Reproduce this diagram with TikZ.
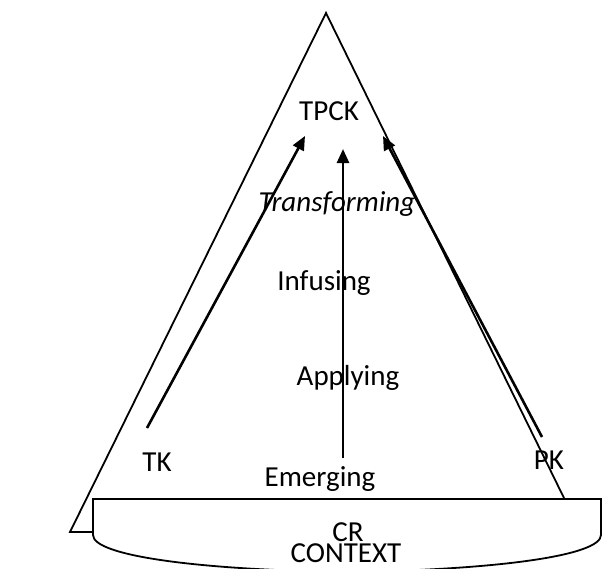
\documentclass[tikz,border=0pt]{standalone}
\usepackage{fontspec}
\setmainfont{Carlito}
\usetikzlibrary{arrows.meta}

\begin{document}
\begin{tikzpicture}[x=1pt,y=-1pt,
  word text/.style={anchor=base,inner sep=0pt,font=\fontsize{29}{34}\selectfont},
  thin line/.style={line width=1.8pt,line join=miter},
  arrow line/.style={line width=2.6pt,-{Triangle[length=14pt,width=12pt]}}]

  \useasboundingbox (0,0) rectangle (602,568);

  % cone and context base
  \draw[thin line] (93,532) -- (70,532) -- (326,13) -- (564,498);
  \draw[thin line] (602,499) -- (93,499) -- (93,535)
    .. controls (93,556) and (200,570) .. (347,572)
    .. controls (494,570) and (601,556) .. (601,535) -- (601,499);

  % labels
  \node[word text] (tpck) at (329,120) {TPCK};
  \node[word text] (transforming) at (337,211) {\itshape Transforming};
  \node[word text] (infusing) at (324,290) {Infusing};
  \node[word text] (applying) at (348,385) {Applying};
  \node[word text] (emerging) at (320,486) {Emerging};
  \node[word text] (tk) at (157,471) {TK};
  \node[word text] (pk) at (549,469) {PK};
  \node[word text] (cr) at (348,541) {CR};
  \node[word text] (context) at (346,562) {CONTEXT};

  \coordinate (tk start) at (147,428);
  \coordinate (tk end) at (305,136);
  \coordinate (em start) at (343,458);
  \coordinate (em end) at (343,149);
  \coordinate (pk start) at (542,437);
  \coordinate (pk end) at (383,136);

  \path[arrow line]
    (tk start) edge (tk end)
    (em start) edge (em end)
    (pk start) edge (pk end);
\end{tikzpicture}
\end{document}
